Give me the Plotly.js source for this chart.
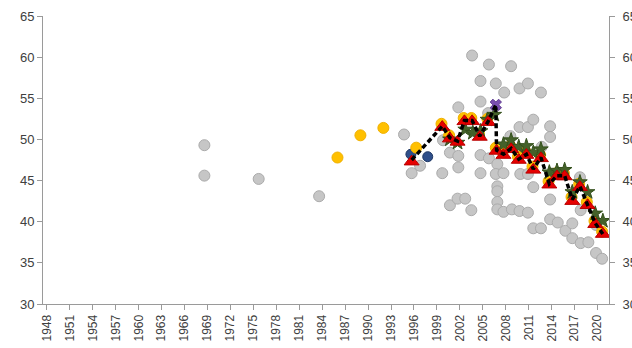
<!DOCTYPE html>
<html>
<head>
<meta charset="utf-8">
<script src="https://cdn.plot.ly/plotly-3.0.1.min.js"></script>
<style>html,body{margin:0;padding:0;background:#fff}#chart{width:632px;height:348px}</style>
</head>
<body>
<div id="chart"></div>
<script>
// Grey circles (other estimates)
const greyX = [1968.6,1968.6,1975.7,1983.6,1994.7,1995.7,1996.8,1999.7,1999.8,2000.7,2000.7,2001.8,2001.8,2001.8,2001.7,2002.7,2003.6,2003.5,2004.7,2004.7,2004.7,2004.7,2005.8,2005.7,2005.8,2006.7,2006.9,2006.7,2006.9,2006.9,2006.9,2006.9,2007.8,2007.7,2007.7,2008.7,2008.6,2008.8,2009.8,2009.8,2009.9,2009.8,2010.9,2010.9,2010.9,2010.9,2011.6,2011.6,2011.6,2012.6,2012.7,2012.6,2013.8,2013.8,2013.8,2013.8,2014.8,2015.8,2016.7,2016.7,2017.7,2017.8,2017.8,2018.8,2019.8,2019.8,2020.6];
const greyY = [49.3,45.6,45.2,43.1,50.6,45.9,46.8,45.9,49.9,48.4,42.0,53.9,48.0,46.6,42.8,42.8,60.2,41.4,57.1,54.6,48.1,45.9,59.1,53.2,47.7,56.8,47.0,45.8,44.3,43.7,42.4,41.5,55.7,45.9,41.2,58.9,50.4,41.5,56.2,51.5,45.8,41.3,56.8,51.5,45.8,41.1,52.4,44.2,39.2,55.7,49.1,39.2,51.6,50.3,42.7,40.3,39.9,38.9,39.8,38.0,45.4,41.4,37.4,37.5,39.6,36.2,35.5];

// Yellow circles
const yellowX = [1986,1989,1992,1996.3,1999.6,2000.6,2002.5,2003.5,2004.5,2005.6,2006.7,2007.6,2008.6,2009.6,2010.6,2011.5,2012.5,2013.6,2014.6,2015.6,2016.6,2017.6,2018.6,2019.6,2020.6];
const yellowY = [47.8,50.5,51.4,49.0,51.9,50.5,52.6,52.6,50.7,52.5,49.0,48.5,49.2,47.9,48.5,46.7,48.1,44.9,45.9,45.9,43.0,44.6,42.4,40.1,38.8];

// Navy circles
const navyX = [1995.6,1997.8];
const navyY = [48.2,47.9];

// Green stars
const greenX = [2000.7,2001.7,2002.7,2003.7,2004.7,2005.6,2006.5,2007.7,2008.7,2009.7,2010.7,2011.6,2012.6,2013.7,2014.7,2015.7,2016.7,2017.7,2018.7,2019.7,2020.7];
const greenY = [50.0,49.6,51.2,50.8,51.0,52.4,53.0,49.4,49.9,49.1,49.2,48.4,48.8,46.0,46.2,46.3,43.6,44.8,43.6,41.0,40.1];

// Red triangles
const redX = [1995.7,1999.7,2000.7,2001.7,2002.6,2003.6,2004.6,2005.7,2006.8,2007.7,2008.7,2009.7,2010.7,2011.6,2012.6,2013.7,2014.7,2015.7,2016.7,2017.7,2018.7,2019.7,2020.7];
const redY = [47.3,51.5,50.1,49.7,52.2,52.2,50.3,52.1,48.6,48.1,48.8,47.5,48.1,46.3,47.7,44.5,45.5,45.5,42.5,44.2,42.0,39.7,38.5];

// Purple X
const purpleX = [2006.7];
const purpleY = [54.2];

// Dashed line
const lineX = [1995.7,1999.7,2000.7,2001.7,2002.6,2003.6,2004.6,2005.7,2006.7,2006.8,2007.7,2008.7,2009.7,2010.7,2011.6,2012.6,2013.7,2014.7,2015.7,2016.7,2017.7,2018.7,2019.7,2020.7];
const lineY = [47.5,51.6,50.2,49.8,52.3,52.3,50.4,52.2,54.2,48.7,48.2,48.9,47.6,48.2,46.4,47.8,44.6,45.6,45.6,42.7,44.3,42.1,39.8,38.5];

// Tick labels
const xTickVals = [];
for (let y = 1948; y <= 2020; y += 3) xTickVals.push(y);
const xTickText = xTickVals.map(String);
const yTickVals = [30,35,40,45,50,55,60,65];

const traces = [
  {x: greyX, y: greyY, type: 'scatter', mode: 'markers', yaxis: 'y',
   marker: {symbol: 'circle', size: 11, color: '#c6c6c6', line: {color: '#ababab', width: 1}}},
  {x: navyX, y: navyY, type: 'scatter', mode: 'markers',
   marker: {symbol: 'circle', size: 10, color: '#2f4f8a', line: {color: '#1f3864', width: 1}}},
  {x: yellowX, y: yellowY, type: 'scatter', mode: 'markers',
   marker: {symbol: 'circle', size: 11, color: '#ffc000', line: {color: '#f0b000', width: 1}}},
  {x: greenX, y: greenY, type: 'scatter', mode: 'markers',
   marker: {symbol: 'star', size: 11, color: '#44612a', line: {color: '#34501c', width: 1}}},
  {x: redX, y: redY, type: 'scatter', mode: 'markers',
   marker: {symbol: 'triangle-up', size: 13, color: '#e60000', line: {color: '#b80000', width: 1}}},
  {x: purpleX, y: purpleY, type: 'scatter', mode: 'markers',
   marker: {symbol: 'x', size: 10, color: '#7a4fb0', line: {color: '#5e3a90', width: 1}}},
  {x: lineX, y: lineY, type: 'scatter', mode: 'lines',
   line: {color: '#000000', width: 3.5, dash: '5px,3px'}},
  {x: [2000], y: [40], type: 'scatter', mode: 'markers', yaxis: 'y2',
   marker: {opacity: 0}, hoverinfo: 'skip'}
];

const font = {family: 'Liberation Sans, Arial, sans-serif', size: 13, color: '#404040'};

const layout = {
  width: 632, height: 348,
  margin: {l: 43, r: 23, t: 16, b: 44, pad: 0},
  paper_bgcolor: '#ffffff', plot_bgcolor: '#ffffff',
  showlegend: false,
  font: font,
  xaxis: {
    range: [1947.5, 2021.5], tickmode: 'array', tickvals: xTickVals, ticktext: xTickText,
    tickangle: -90, tickfont: {family: 'Liberation Sans, Arial, sans-serif', size: 12, color: '#404040'},
    showgrid: false, zeroline: false, showline: true, linecolor: '#9a9a9a', linewidth: 1,
    ticks: 'outside', ticklen: 5, tickcolor: '#9a9a9a'
  },
  yaxis: {
    range: [30, 65], tickmode: 'array', tickvals: yTickVals,
    showgrid: false, zeroline: false, showline: true, linecolor: '#9a9a9a', linewidth: 1,
    ticks: 'outside', ticklen: 5, tickcolor: '#9a9a9a', tickfont: font
  },
  yaxis2: {
    range: [30, 65], tickmode: 'array', tickvals: yTickVals, overlaying: 'y', side: 'right',
    showgrid: false, zeroline: false, showline: true, linecolor: '#9a9a9a', linewidth: 1,
    ticks: 'outside', ticklen: 5, tickcolor: '#9a9a9a', tickfont: font, ticklabelstandoff: 5
  }
};

Plotly.newPlot('chart', traces, layout, {staticPlot: true, displayModeBar: false});
</script>
</body>
</html>
